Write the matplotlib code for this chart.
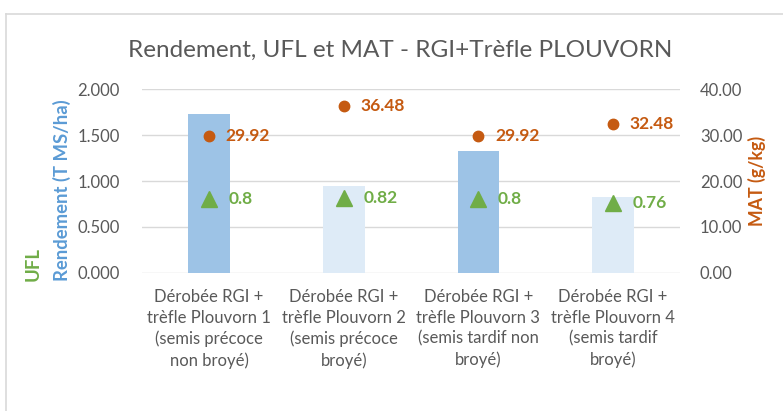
import numpy as np
import matplotlib.pyplot as plt
from matplotlib.lines import Line2D

plt.rcParams['font.family'] = ['Lato', 'DejaVu Sans']

# data
categories = [
    "Dérobée RGI +\ntrèfle Plouvorn 1\n(semis précoce\nnon broyé)",
    "Dérobée RGI +\ntrèfle Plouvorn 2\n(semis précoce\nbroyé)",
    "Dérobée RGI +\ntrèfle Plouvorn 3\n(semis tardif non\nbroyé)",
    "Dérobée RGI +\ntrèfle Plouvorn 4\n(semis tardif\nbroyé)",
]
rendement = [1.73, 0.945, 1.325, 0.83]
ufl = [0.8, 0.82, 0.8, 0.76]
mat = [29.92, 36.48, 29.92, 32.48]
left_ticks = [0, 0.5, 1.0, 1.5, 2.0]
right_ticks = [0, 10, 20, 30, 40]

bar_colors = ["#9DC3E6", "#DEEBF7", "#9DC3E6", "#DEEBF7"]
grey = "#595959"
blue = "#5B9BD5"
green = "#70AD47"
orange = "#C55A11"

fig = plt.figure(figsize=(7.83, 4.11), dpi=100)
ax = fig.add_axes([0.181, 0.3365, 0.688, 0.446])
ax2 = ax.twinx()

x = np.arange(len(categories))
ax.bar(x, rendement, width=0.31, color=bar_colors, zorder=2)
ax.plot(x, ufl, linestyle="none", marker="^", markersize=11, color=green, zorder=3)
ax2.plot(x, mat, linestyle="none", marker="o", markersize=7.5, color=orange, zorder=3)

for xi, v in zip(x, ufl):
    ax.annotate(f"{v:g}", (xi, v), xytext=(14, 0), textcoords="offset points",
                va="center", ha="left", color=green, fontsize=12.5, fontweight="bold")
for xi, v in zip(x, mat):
    ax2.annotate(f"{v:.2f}", (xi, v), xytext=(12, 0), textcoords="offset points",
                 va="center", ha="left", color=orange, fontsize=12.5, fontweight="bold")

ax.set_xlim(-0.5, len(categories) - 0.5)
ax.set_ylim(0, 2.0)
ax2.set_ylim(0, 40)
ax.set_yticks(left_ticks)
ax.set_yticklabels([f"{t:.3f}" for t in left_ticks])
ax2.set_yticks(right_ticks)
ax2.set_yticklabels([f"{t:.2f}" for t in right_ticks])
ax.set_xticks(x)
ax.set_xticklabels(categories, linespacing=1.36)

ax.grid(axis="y", color="#D9D9D9", linewidth=1, zorder=0)
ax.set_axisbelow(True)
for a in (ax, ax2):
    for s in a.spines.values():
        s.set_visible(False)
    a.tick_params(length=0, labelsize=12, labelcolor=grey)
ax.tick_params(axis="y", pad=16)
ax2.tick_params(axis="y", pad=14)
ax.tick_params(axis="x", pad=12)

fig.text(0.511, 0.878, "Rendement, UFL et MAT - RGI+Trèfle PLOUVORN",
         ha="center", va="center", fontsize=17.5, color=grey)
fig.text(0.079, 0.316, "Rendement (T MS/ha)", rotation=90, ha="center", va="bottom",
         color=blue, fontsize=13.3, fontweight="bold")
fig.text(0.042, 0.316, "UFL", rotation=90, ha="center", va="bottom",
         color=green, fontsize=13.3, fontweight="bold")
fig.text(0.967, 0.56, "MAT (g/kg)", rotation=90, ha="center", va="center",
         color=orange, fontsize=12.8, fontweight="bold")

# chart frame (top and left edges visible)
fig.add_artist(Line2D([6 / 783, 1], [1 - 14 / 411] * 2, color="#D9D9D9", lw=1.2))
fig.add_artist(Line2D([6 / 783] * 2, [0, 1 - 14 / 411], color="#D9D9D9", lw=1.2))

fig.savefig("out.png", dpi=100)
